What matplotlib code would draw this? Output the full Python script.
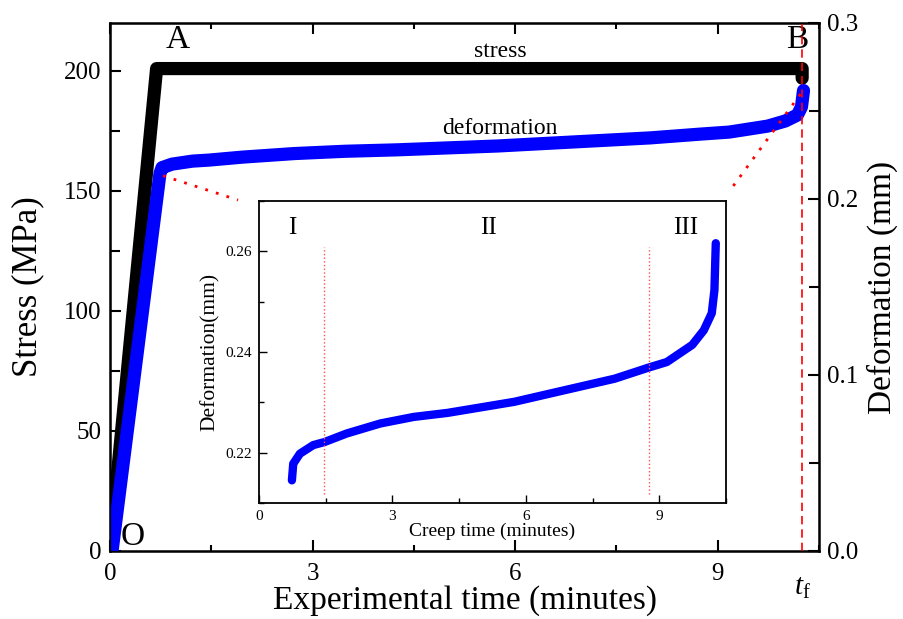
import numpy as np
import matplotlib
matplotlib.use('Agg')
import matplotlib.pyplot as plt
from matplotlib.ticker import MultipleLocator

plt.rc('font', family='Liberation Serif')
plt.rc('mathtext', fontset='custom', rm='Liberation Serif', it='Liberation Serif:italic')

# stress curve (minutes, MPa)
t_stress = [0.0, 0.69, 10.25, 10.25]
stress   = [0.0, 201.0, 201.0, 197.0]

# deformation curve (minutes, mm)
t_def = [0.03, 0.74, 0.77, 0.92, 1.22, 1.47, 1.97, 2.73, 3.48, 4.24, 4.99,
         5.74, 6.72, 8.0, 8.76, 9.17, 9.74, 10.0, 10.18, 10.24, 10.27]
deform = [0.0, 0.2145, 0.2178, 0.2198, 0.2215, 0.2221, 0.2238, 0.2258, 0.2271,
          0.2279, 0.2290, 0.2301, 0.2321, 0.2347, 0.2369, 0.2380, 0.2414,
          0.2443, 0.2477, 0.2523, 0.2616]

t_f = 10.25
stage_bounds = [1.47, 8.76]

fig = plt.figure(figsize=(9.04, 6.19), dpi=100)
ax = fig.add_axes([0.1217, 0.1099, 0.7843, 0.853])
ax2 = ax.twinx()

ax.plot(t_stress, stress, '-', color='black', lw=9.5, solid_capstyle='round', solid_joinstyle='round')
ax2.plot(t_def, deform, '-', color='blue', lw=9.5, solid_capstyle='round', solid_joinstyle='round')

# guide lines
ax2.axvline(t_f, color='red', ls=(0, (5, 3)), lw=1.2)
ax2.plot([0.785, 1.896], [0.2132, 0.1994], color='red', ls=(0, (1, 3)), lw=2)
ax2.plot([9.23, 10.25], [0.2074, 0.2609], color='red', ls=(0, (1, 3)), lw=2)

ax.set_xlim(0, 10.5)
ax.set_ylim(0, 220)
ax2.set_ylim(0, 0.3)
ax.set_xticks([0, 3, 6, 9])
ax.xaxis.set_minor_locator(MultipleLocator(1.5))
ax.set_yticks([0, 50, 100, 150, 200])
ax.yaxis.set_minor_locator(MultipleLocator(25))
ax2.set_yticks([0, 0.1, 0.2, 0.3])
ax2.set_yticklabels(['0.0', '0.1', '0.2', '0.3'])
ax2.yaxis.set_minor_locator(MultipleLocator(0.05))

ax.tick_params(which='both', direction='in', top=True, labelsize=18, width=1.5)
ax.tick_params(axis='x', pad=9)
ax.tick_params(axis='y', pad=6)
ax.tick_params(which='major', length=8)
ax.tick_params(axis='x', which='minor', length=4)
ax.tick_params(axis='y', which='minor', length=7)
ax2.tick_params(which='both', direction='in', labelsize=18, width=1.5, pad=6)
ax2.tick_params(which='major', length=8)
ax2.tick_params(which='minor', length=7)
for s in ax.spines.values():
    s.set_linewidth(1.8)

ax.text(t_f, -0.045, r'$t_\mathrm{f}$', transform=ax.get_xaxis_transform(),
        ha='center', va='top', fontsize=21)

ax.set_xlabel('Experimental time (minutes)', fontsize=24, labelpad=0)
ax.set_ylabel('Stress (MPa)', fontsize=25, labelpad=14)
ax2.set_ylabel('Deformation (mm)', fontsize=24, labelpad=6)

ax.text(1.0, 213, 'A', fontsize=24, ha='center', va='center')
ax.text(10.18, 213, 'B', fontsize=24, ha='center', va='center')
ax.text(0.34, 6, 'O', fontsize=24, ha='center', va='center')
ax.text(5.78, 208, 'stress', fontsize=17, ha='center', va='center')
ax.text(5.78, 176, 'deformation', fontsize=17, ha='center', va='center')

# inset: creep stage
axi = fig.add_axes([0.2865, 0.1874, 0.5166, 0.488])
axi.plot(t_def[1:], deform[1:], '-', color='blue', lw=6, solid_capstyle='round')
for b in stage_bounds:
    axi.plot([b, b], [0.2117, 0.2609], color='#ff5050', ls=':', lw=1)
axi.set_xlim(0, 10.5)
axi.set_ylim(0.21, 0.27)
axi.set_xticks([0, 3, 6, 9])
axi.xaxis.set_minor_locator(MultipleLocator(1.5))
axi.set_yticks([0.22, 0.24, 0.26])
axi.yaxis.set_minor_locator(MultipleLocator(0.01))
axi.tick_params(which='both', direction='in', labelsize=11, width=1, pad=5)
axi.tick_params(which='major', length=6)
axi.tick_params(which='minor', length=3.5)
for s in axi.spines.values():
    s.set_linewidth(1.3)
axi.set_xlabel('Creep time (minutes)', fontsize=14, labelpad=0)
axi.set_ylabel('Deformation(mm)', fontsize=15.5, labelpad=4)
axi.text(0.74, 0.2646, 'I', fontsize=18, ha='center', va='center')
axi.text(5.15, 0.2646, 'II', fontsize=18, ha='center', va='center')
axi.text(9.6, 0.2646, 'III', fontsize=18, ha='center', va='center')

plt.savefig('out.png', dpi=100)
